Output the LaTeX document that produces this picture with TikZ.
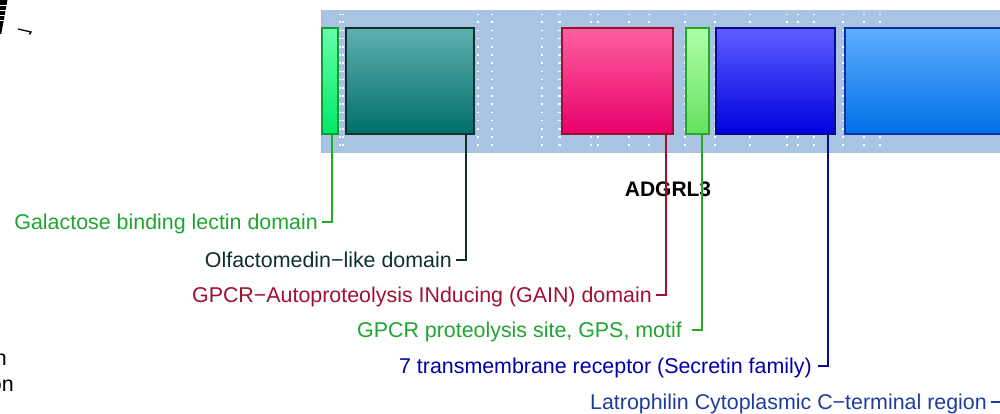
\documentclass[tikz,border=0pt]{standalone}
\usepackage{fontspec}
\setmainfont{Liberation Sans}
\begin{document}
\begin{tikzpicture}[x=1pt,y=-1pt,
  lbl/.style={anchor=base east,inner sep=0pt,font=\fontsize{21.4}{24}\selectfont},
  dom/.style={line width=1.4pt},
  conn/.style={line width=1.3pt},
  dots/.style={white,line width=1.6pt,dash pattern=on 1.6pt off 6.6pt,dash phase=0.8pt}]
\definecolor{bgblue}{HTML}{A9C4E3}
\definecolor{gAtop}{HTML}{66FFAA}\definecolor{gAbot}{HTML}{00E868}\definecolor{gAbd}{HTML}{129A35}
\definecolor{tTop}{HTML}{5EB0AE}\definecolor{tBot}{HTML}{006E6A}\definecolor{tBd}{HTML}{0F2F2F}
\definecolor{pTop}{HTML}{FF60A0}\definecolor{pBot}{HTML}{E8006A}\definecolor{pBd}{HTML}{A0102F}
\definecolor{gBtop}{HTML}{B0FFA8}\definecolor{gBbot}{HTML}{66E060}\definecolor{gBbd}{HTML}{22AA22}
\definecolor{bTop}{HTML}{5E5EFF}\definecolor{bBot}{HTML}{0000E0}\definecolor{bBd}{HTML}{0A0A90}
\definecolor{lTop}{HTML}{60AEFF}\definecolor{lBot}{HTML}{0070E8}\definecolor{lBd}{HTML}{1030A0}
\definecolor{txgreen}{HTML}{1FA52F}
\definecolor{txteal}{HTML}{0F2F2F}
\definecolor{txred}{HTML}{A0102F}
\definecolor{txblue}{HTML}{0000AA}
\definecolor{txlblue}{HTML}{1E3CA0}
\useasboundingbox (0,0) rectangle (1000,414);
% background bar
\fill[bgblue] (321,10) rectangle (1000,153);
\draw[red!40,line width=0.8pt] (321.4,10) -- (321.4,153);
% dotted white verticals
\foreach \xx in {340,343,478,492,542,559,560,591,598,629,649,685,715,750,787,798,814,843,864,880}
  \draw[dots] (\xx,14) -- (\xx,152);
% domains
\node[dom,draw=gAbd,top color=gAtop,bottom color=gAbot,minimum width=16pt,minimum height=106pt,inner sep=0pt] (d1) at (330,81) {};
\node[dom,draw=tBd,top color=tTop,bottom color=tBot,minimum width=128pt,minimum height=106pt,inner sep=0pt] (d2) at (410,81) {};
\node[dom,draw=pBd,top color=pTop,bottom color=pBot,minimum width=111pt,minimum height=106pt,inner sep=0pt] (d3) at (617.5,81) {};
\node[dom,draw=gBbd,top color=gBtop,bottom color=gBbot,minimum width=23pt,minimum height=106pt,inner sep=0pt] (d4) at (697.5,81) {};
\node[dom,draw=bBd,top color=bTop,bottom color=bBot,minimum width=119pt,minimum height=106pt,inner sep=0pt] (d5) at (775.5,81) {};
\node[dom,draw=lBd,top color=lTop,bottom color=lBot,minimum width=170pt,minimum height=106pt,inner sep=0pt] (d6) at (930,81) {};
% title
\node[anchor=base,inner sep=0pt,font=\fontsize{21}{24}\selectfont\bfseries] (title) at (668,196) {ADGRL3};
% connector end points
\coordinate (c1) at (322,222);
\coordinate (c2) at (456,260);
\coordinate (c3) at (656,295);
\coordinate (c4) at (692,330);
\coordinate (c5) at (818,366);
\coordinate (c6) at (991,402);
\draw[conn,gBbd] (d1.south -| 332,0) |- (c1);
\draw[conn,tBd] (d2.south -| 466,0) |- (c2);
\draw[conn,pBd] (d3.south -| 666,0) |- (c3);
\draw[conn,gBbd] (d4.south -| 702,0) |- (c4);
\draw[conn,bBd] (d5.south -| 828,0) |- (c5);
\draw[conn,txlblue] (d6.south -| 1003,0) |- (c6);
% labels
\node[lbl,text=txgreen] (l1) at (318,229) {Galactose binding lectin domain};
\node[lbl,text=txteal] (l2) at (452,267) {Olfactomedin−like domain};
\node[lbl,text=txred] (l3) at (652,302) {GPCR−Autoproteolysis INducing (GAIN) domain};
\node[lbl,text=txgreen] (l4) at (682,337) {GPCR proteolysis site, GPS, motif};
\node[lbl,text=txblue] (l5) at (812,373) {7 transmembrane receptor (Secretin family)};
\node[lbl,text=txlblue] (l6) at (987,409) {Latrophilin Cytoplasmic C−terminal region};
% cropped remnants on the left
\node[lbl] (r1) at (7,365) {n};
\node[lbl] (r2) at (14,391) {on};
\fill[black] (0,0) -- (7.5,0) -- (1.2,34) -- (0,34) -- cycle;
\foreach \yy in {6,11,16,21}
  \draw[white,line width=1pt] (0,\yy) -- (7,\yy);
\draw[black,line width=1.3pt] (18,29) -- (31,32) -- (29.5,34.5);
\end{tikzpicture}
\end{document}
